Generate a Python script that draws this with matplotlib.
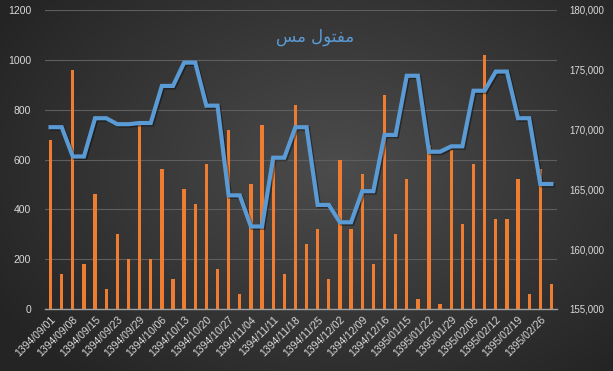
import numpy as np
import matplotlib
matplotlib.use("Agg")
import matplotlib.pyplot as plt
from matplotlib.ticker import FuncFormatter, MultipleLocator
import matplotlib.patheffects as pe

# tick labels (one every two categories)
tick_labels = ["1394/09/01", "1394/09/08", "1394/09/15", "1394/09/23", "1394/09/29",
               "1394/10/06", "1394/10/13", "1394/10/20", "1394/10/27", "1394/11/04",
               "1394/11/11", "1394/11/18", "1394/11/25", "1394/12/02", "1394/12/09",
               "1394/12/16", "1395/01/15", "1395/01/22", "1395/01/29", "1395/02/05",
               "1395/02/12", "1395/02/19", "1395/02/26"]

# volume (left axis)
volume = [680, 140, 960, 180, 460, 80, 300, 200, 740, 200,
          560, 120, 480, 420, 580, 160, 720, 60, 500, 740,
          600, 140, 820, 260, 320, 120, 600, 320, 540, 180,
          860, 300, 520, 40, 660, 20, 640, 340, 580, 1020,
          360, 360, 520, 60, 560, 100]

# price (right axis)
price = [170200, 170200, 167750, 167750, 170950, 170950, 170450, 170450, 170550, 170550,
         173650, 173650, 175600, 175600, 172000, 172000, 164500, 164500, 161900, 161900,
         167650, 167650, 170200, 170200, 163700, 163700, 162250, 162250, 164850, 164850,
         169550, 169550, 174500, 174500, 168150, 168150, 168600, 168600, 173250, 173250,
         174850, 174850, 170950, 170950, 165450, 165450]

# "مفتول مس" written in visual order with presentation forms (no shaping in matplotlib)
title = "\uFEB2\uFEE3 \uFEDD\uFEEE\uFE98\uFED4\uFEE3"

W, H = 613, 371
fig = plt.figure(figsize=(W / 100, H / 100), dpi=100)

# radial dark background
bg = fig.add_axes([0, 0, 1, 1], zorder=-10)
yy, xx = np.mgrid[0:H, 0:W]
r = np.sqrt(((xx - W * 0.55) / (W * 0.65)) ** 2 + ((yy - H * 0.45) / (H * 0.75)) ** 2)
r = np.clip(r, 0, 1)
c_in = np.array([0x4c, 0x4c, 0x4c]) / 255
c_out = np.array([0x24, 0x24, 0x24]) / 255
img = c_in[None, None, :] * (1 - r[..., None]) + c_out[None, None, :] * r[..., None]
bg.imshow(img, aspect="auto", extent=[0, 1, 0, 1])
bg.axis("off")

ax = fig.add_axes([45 / W, 1 - 309 / H, 512 / W, 299 / H])
ax.set_facecolor("none")
x = np.arange(len(volume))
ax.bar(x, volume, width=0.3, color="#EE7D31", zorder=2)
ax.set_xlim(-0.5, len(volume) - 0.5)
ax.set_ylim(0, 1200)
ax.yaxis.set_major_locator(MultipleLocator(200))
ax.grid(axis="y", color="#5e5e5e", lw=0.8, zorder=0)
ax.set_axisbelow(True)
for s in ["top", "right", "left"]:
    ax.spines[s].set_visible(False)
ax.spines["bottom"].set_color("#a0a0a0")
ax.spines["bottom"].set_linewidth(1)
ax.set_xticks(x[::2])
ax.set_xticklabels(tick_labels, rotation=45, ha="right", va="top",
                   rotation_mode="anchor")
ax.tick_params(length=0, colors="#d9d9d9", labelsize=7.5)
ax.tick_params(axis="y", pad=10)
ax.tick_params(axis="x", pad=4)
for lab in ax.get_xticklabels() + ax.get_yticklabels():
    lab.set_family("Liberation Sans")

ax2 = ax.twinx()
ax2.set_facecolor("none")
ax2.plot(x, price, color="#5B9BD5", lw=3, zorder=3, solid_joinstyle="miter",
         path_effects=[pe.SimpleLineShadow(offset=(1, -1), alpha=0.4), pe.Normal()])
ax2.set_ylim(155000, 180000)
ax2.yaxis.set_major_locator(MultipleLocator(5000))
ax2.yaxis.set_major_formatter(FuncFormatter(lambda v, p: f"{int(v):,}"))
for s in ["top", "right", "left", "bottom"]:
    ax2.spines[s].set_visible(False)
ax2.tick_params(length=0, colors="#d9d9d9", labelsize=7, pad=9)
for lab in ax2.get_yticklabels():
    lab.set_family("Liberation Sans")

fig.text(315 / W, 1 - 37 / H, title, color="#5B9BD5", fontsize=12,
         ha="center", va="center", family="DejaVu Sans")

fig.savefig("out.png", dpi=100)
